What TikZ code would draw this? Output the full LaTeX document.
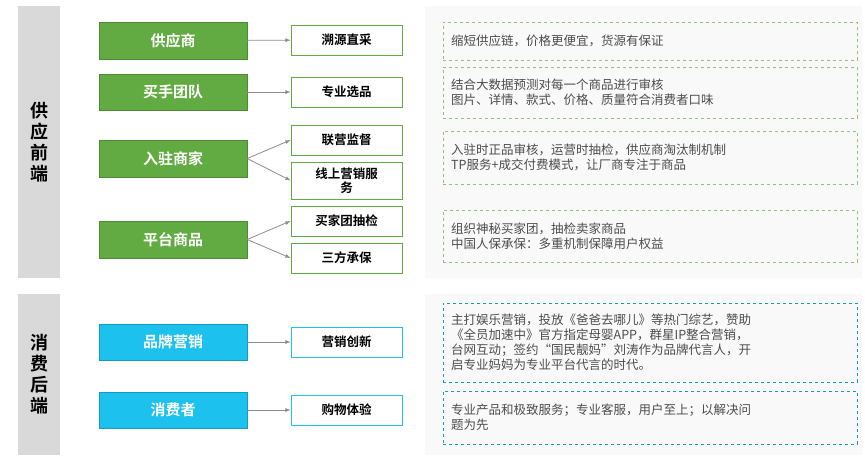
\documentclass[tikz,border=0pt]{standalone}
\usepackage{fontspec}
\setmainfont{Noto Sans CJK SC}
\newfontfamily\cjkb{Noto Sans CJK SC Bold}
\definecolor{gr}{HTML}{62AB42}
\definecolor{bl}{HTML}{1CC1EE}
\definecolor{panelc}{HTML}{F9F9F9}
\begin{document}
\begin{tikzpicture}[x=1pt,y=-1pt,
 side/.style={fill=black!15,draw=none},
 panel/.style={fill=panelc,draw=none},
 gbox/.style={fill=gr,draw=gr!80!black,text=white,font=\cjkb\fontsize{15}{17}\selectfont},
 bbox/.style={fill=bl,draw=bl!80!black,text=white,font=\cjkb\fontsize{15}{17}\selectfont},
 wbox/.style={fill=white,draw=gr,thick,text=black,font=\cjkb\fontsize{12.5}{14}\selectfont,align=center},
 wbbox/.style={fill=white,draw=bl,thick,text=black,font=\cjkb\fontsize{12.5}{14}\selectfont,align=center},
 tbox/.style={draw=gr!70,dashed,fill=panelc,text=black!70,font=\fontsize{12.5}{15}\selectfont,align=left,inner xsep=8pt},
 tbbox/.style={draw=bl!80!black,dashed,fill=panelc,text=black!70,font=\fontsize{12.5}{15}\selectfont,align=left,inner xsep=8pt},
 conn/.style={draw=black!45,-latex,thick},
 lab/.style={font=\cjkb\fontsize{18}{21}\selectfont,align=center}]
\useasboundingbox (0,0) rectangle (865,459);
\fill[side] (18,6) rectangle (60,278);
\fill[side] (18,294) rectangle (60,455);
\fill[panel] (425,6) rectangle (862,278);
\fill[panel] (425,294) rectangle (862,455);
\node[lab] (s1) at (39,142) {供\\应\\前\\端};
\node[lab] (s2) at (39,374) {消\\费\\后\\端};
\node[gbox,minimum width=148pt,minimum height=37pt] (g1) at (173,40.5) {供应商};
\node[gbox,minimum width=148pt,minimum height=36pt] (g2) at (173,92) {买手团队};
\node[gbox,minimum width=148pt,minimum height=37pt] (g3) at (173,158.5) {入驻商家};
\node[gbox,minimum width=148pt,minimum height=37pt] (g4) at (173,239.5) {平台商品};
\node[bbox,minimum width=148pt,minimum height=36pt] (b1) at (173,342) {品牌营销};
\node[bbox,minimum width=148pt,minimum height=36pt] (b2) at (173,410) {消费者};
\node[wbox,minimum width=111pt,minimum height=30pt] (w1) at (346.5,40) {溯源直采};
\node[wbox,minimum width=111pt,minimum height=30pt] (w2) at (346.5,92) {专业选品};
\node[wbox,minimum width=111pt,minimum height=30pt] (w3) at (346.5,140) {联营监督};
\node[wbox,minimum width=111pt,minimum height=37pt,text width=100pt,inner sep=0pt] (w4) at (346.5,180.5) {线上营销服\\务};
\node[wbox,minimum width=111pt,minimum height=30pt] (w5) at (346.5,221) {买家团抽检};
\node[wbox,minimum width=111pt,minimum height=30pt] (w6) at (346.5,258) {三方承保};
\node[wbbox,minimum width=111pt,minimum height=30pt] (w7) at (346.5,342) {营销创新};
\node[wbbox,minimum width=111pt,minimum height=30pt] (w8) at (346.5,410) {购物体验};
\draw[conn] (g1) -- (w1);
\draw[conn] (g2) -- (w2);
\draw[conn] (g3.east) -- (w3.west);
\draw[conn] (g3.east) -- (w4.west);
\draw[conn] (g4.east) -- (w5.west);
\draw[conn] (g4.east) -- (w6.west);
\draw[conn] (b1) -- (w7);
\draw[conn] (b2) -- (w8);
\node[tbox,minimum width=414pt,minimum height=38pt,text width=398pt,anchor=west] (t1) at (443,41) {缩短供应链，价格更便宜，货源有保证};
\node[tbox,minimum width=414pt,minimum height=51pt,text width=398pt,anchor=west] (t2) at (443,92.5) {结合大数据预测对每一个商品进行审核\\图片、详情、款式、价格、质量符合消费者口味};
\node[tbox,minimum width=414pt,minimum height=53pt,text width=398pt,anchor=west] (t3) at (443,157.5) {入驻时正品审核，运营时抽检，供应商淘汰制机制\\TP服务+成交付费模式，让厂商专注于商品};
\node[tbox,minimum width=414pt,minimum height=52pt,text width=398pt,anchor=west] (t4) at (443,236) {组织神秘买家团，抽检卖家商品\\中国人保承保：多重机制保障用户权益};
\node[tbbox,minimum width=414pt,minimum height=79pt,text width=398pt,anchor=west] (t5) at (443,342.5) {主打娱乐营销，投放《爸爸去哪儿》等热门综艺，赞助\\《全员加速中》官方指定母婴APP，群星IP整合营销，\\台网互动；签约“国民靓妈”刘涛作为品牌代言人，开\\启专业妈妈为专业平台代言的时代。};
\node[tbbox,minimum width=414pt,minimum height=53pt,text width=398pt,anchor=west] (t6) at (443,417.5) {专业产品和极致服务；专业客服，用户至上；以解决问\\题为先};
\end{tikzpicture}
\end{document}
